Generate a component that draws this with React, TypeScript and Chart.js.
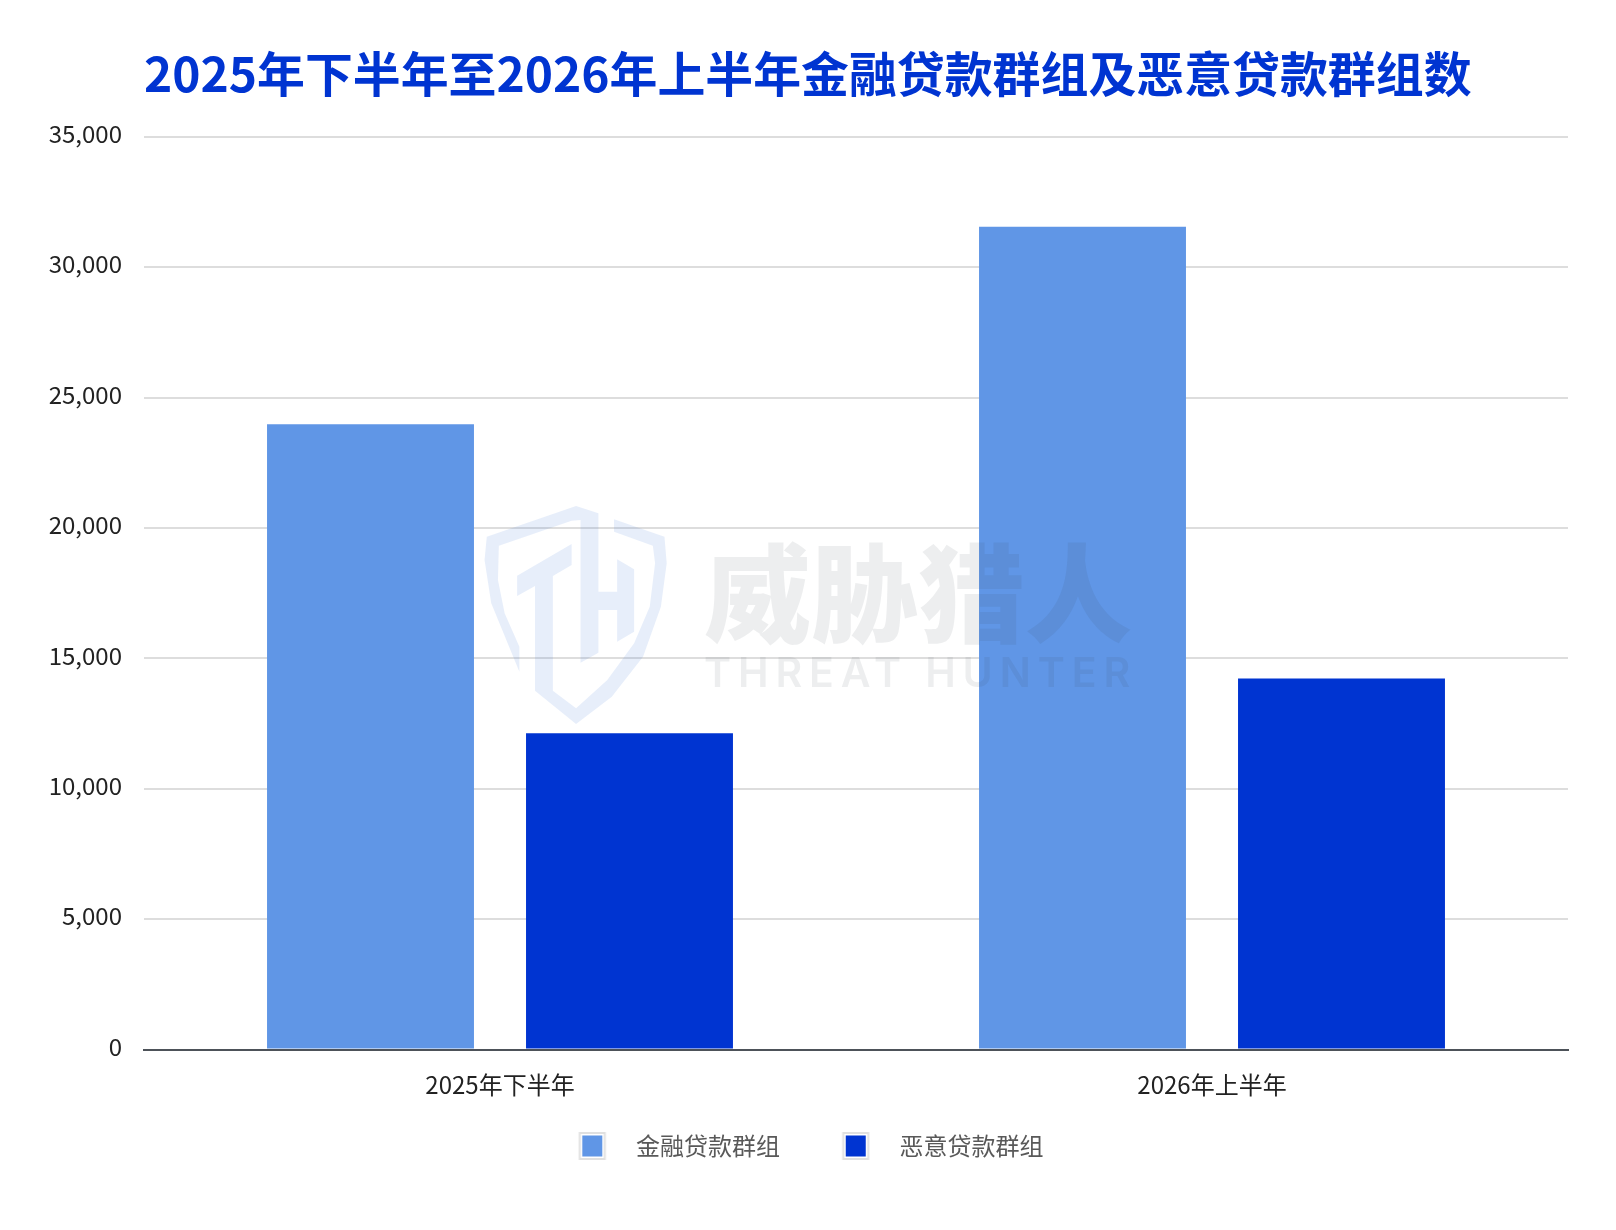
import React, { useEffect, useRef } from "react";
import { Chart, registerables } from "chart.js";

Chart.register(...registerables);

const categories = ["2025年下半年", "2026年上半年"];
const financeLoanGroups = [23980, 31560];
const maliciousLoanGroups = [12130, 14230];
const seriesNames = ["金融贷款群组", "恶意贷款群组"];
const titleText = "2025年下半年至2026年上半年金融贷款群组及恶意贷款群组数";

const LIGHT = "#6096e6";
const DARK = "#0034d1";
const FONT = '"Noto Sans CJK SC", "Noto Sans", sans-serif';

function swatch(color: string) {
  const c = document.createElement("canvas");
  c.width = 100;
  c.height = 28;
  const g = c.getContext("2d")!;
  g.fillStyle = "#e0e0e0";
  g.fillRect(54.5, 0, 27, 28);
  g.fillStyle = "#ffffff";
  g.fillRect(56.5, 2, 23, 24);
  g.fillStyle = color;
  g.fillRect(58, 3.5, 20, 21);
  return c;
}

function poly(g: CanvasRenderingContext2D, pts: number[][]) {
  g.beginPath();
  pts.forEach(([zx, zy], i) => {
    const x = 460 + zx / 2.24;
    const y = 480 + zy / 3;
    if (i === 0) g.moveTo(x, y);
    else g.lineTo(x, y);
  });
  g.closePath();
  g.fill();
}

const watermark = {
  id: "watermark",
  afterLayout(chart: any) {
    if (chart.legend) {
      chart.legend.left -= 0;
      chart.legend.right -= 0;
    }
  },
  afterDraw(chart: any) {
    const g: CanvasRenderingContext2D = chart.ctx;
    g.save();
    g.fillStyle = "rgba(70,120,220,0.13)";
    poly(g, [[310,100],[260,78],[60,170],[55,240],[70,370],[133,575],[133,500],[100,400],[85,300],[87,197],[250,122],[270,120],[270,548],[310,518]]);
    poly(g, [[250,192],[128,287],[128,348],[168,318],[168,632],[260,732],[340,650],[410,530],[450,380],[463,250],[458,170],[345,118],[345,155],[432,197],[437,250],[425,380],[390,490],[330,600],[260,685],[208,632],[208,288],[250,255]]);
    poly(g, [[352,238],[390,268],[390,455],[352,485],[352,390],[310,390],[310,335],[352,335]]);
    g.fillStyle = "rgba(60,65,75,0.09)";
    g.textAlign = "left";
    g.textBaseline = "alphabetic";
    g.font = `900 107px ${FONT}`;
    g.fillText("威胁猎人", 704, 634);
    g.font = `600 41px Inter, sans-serif`;
    (g as any).letterSpacing = "6.9px";
    g.fillText("THREAT HUNTER", 704, 687);
    g.restore();
  },
};

export default function App() {
  const ref = useRef<HTMLCanvasElement>(null);
  useEffect(() => {
    const swatches = [swatch(LIGHT), swatch(DARK)];
    const chart = new Chart(ref.current!, {
      type: "bar",
      data: {
        labels: categories,
        datasets: [
          { label: seriesNames[0], data: financeLoanGroups, backgroundColor: LIGHT },
          { label: seriesNames[1], data: maliciousLoanGroups, backgroundColor: DARK },
        ],
      },
      options: {
        responsive: false,
        animation: false,
        devicePixelRatio: 1,
        layout: { padding: { left: 0, right: 48, top: 0, bottom: 62 } },
        datasets: { bar: { categoryPercentage: 0.7275, barPercentage: 0.799 } },
        scales: {
          x: {
            grid: { display: false, drawTicks: false },
            border: { color: "#4d5259", width: 2 },
            ticks: { color: "#222222", padding: 21, maxRotation: 0, font: { family: FONT, size: 24 } },
            afterFit(s: any) { s.height = 76.5; },
          },
          y: {
            min: 0,
            max: 35000,
            grid: { color: "#dddddd", lineWidth: 2, drawTicks: false },
            border: { display: false },
            ticks: { stepSize: 5000, color: "#222222", padding: 22, labelOffset: -3, font: { family: FONT, size: 24 } },
            afterFit(s: any) { s.width = 144; },
          },
        },
        plugins: {
          tooltip: { enabled: false },
          title: {
            display: true,
            text: titleText,
            align: "start",
            fullSize: false,
            color: DARK,
            font: { family: FONT, size: 47.9, weight: "bold", lineHeight: 1.2 },
            padding: { top: 45, bottom: 34.5 },
          },
          legend: {
            display: true,
            position: "bottom",
            labels: {
              color: "#595959",
              font: { family: FONT, size: 24 },
              usePointStyle: true,
              pointStyleWidth: 99.5,
              padding: 8,
              generateLabels: () =>
                seriesNames.map((text, i) => ({
                  text,
                  datasetIndex: i,
                  pointStyle: swatches[i],
                  fontColor: "#595959",
                  fillStyle: i ? DARK : LIGHT,
                  strokeStyle: "transparent",
                  lineWidth: 0,
                })),
            },
          },
        },
      } as any,
      plugins: [watermark],
    });
    return () => chart.destroy();
  }, []);
  return (
    <div style={{ position: "absolute", left: 0, top: 0, width: 1616, height: 1230, background: "#fff" }}>
      <canvas ref={ref} width={1616} height={1230} style={{ display: "block" }} />
    </div>
  );
}
